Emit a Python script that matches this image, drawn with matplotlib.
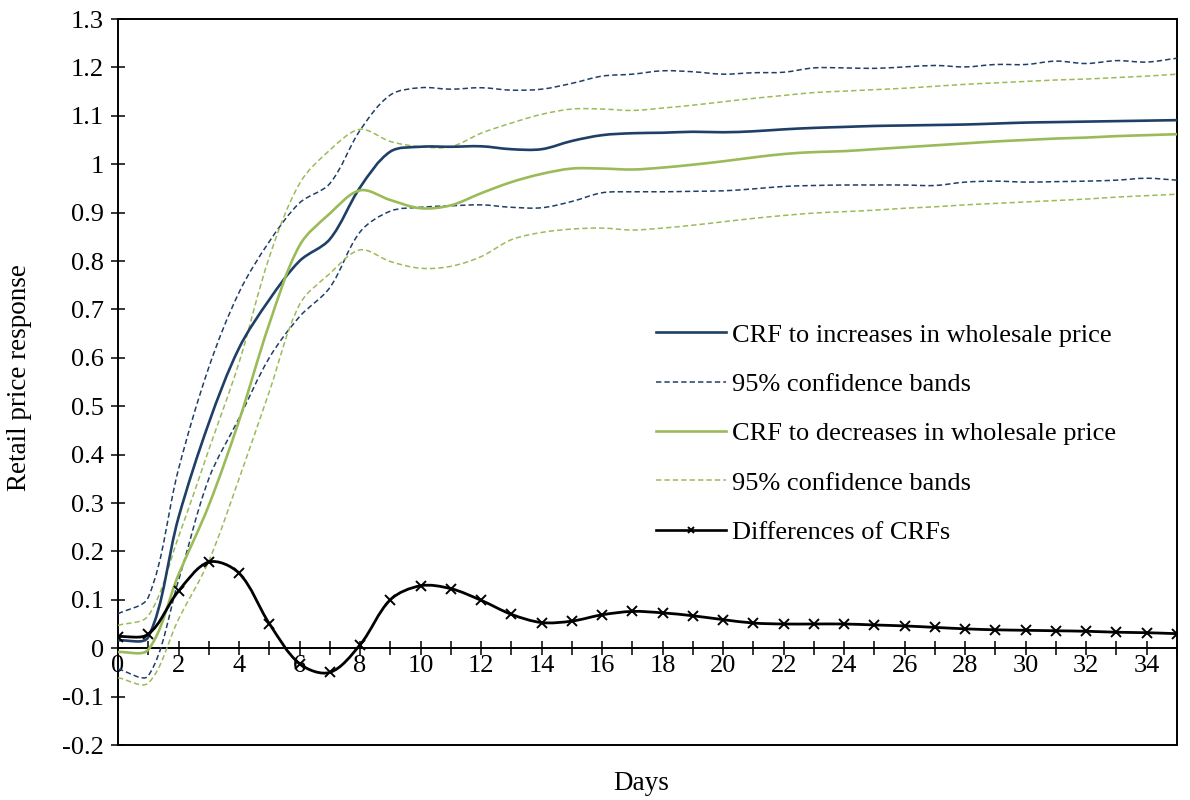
import numpy as np
import matplotlib
matplotlib.use("Agg")
import matplotlib.pyplot as plt
from matplotlib.path import Path
from matplotlib.patches import PathPatch
from matplotlib.lines import Line2D

plt.rcParams["font.family"] = ["Liberation Serif", "DejaVu Serif"]
plt.rcParams["axes.unicode_minus"] = False

NAVY = "#1F3F66"
GREEN = "#9BBB59"

days = list(range(36))

# CRF to increases in wholesale price + 95% bands
crf_up = [0.016, 0.023, 0.270, 0.465, 0.620, 0.720, 0.800, 0.845, 0.952, 1.026,
          1.036, 1.036, 1.037, 1.031, 1.031, 1.048, 1.060, 1.064, 1.065, 1.067,
          1.066, 1.068, 1.072, 1.075, 1.077, 1.079, 1.080, 1.081, 1.082, 1.084,
          1.086, 1.087, 1.088, 1.089, 1.090, 1.091]
crf_up_hi = [0.071, 0.105, 0.370, 0.580, 0.735, 0.840, 0.920, 0.960, 1.070, 1.143,
             1.158, 1.155, 1.158, 1.153, 1.155, 1.167, 1.182, 1.186, 1.193, 1.191,
             1.186, 1.189, 1.190, 1.199, 1.199, 1.198, 1.201, 1.204, 1.201, 1.206,
             1.206, 1.213, 1.208, 1.214, 1.211, 1.219]
crf_up_lo = [-0.043, -0.057, 0.140, 0.350, 0.475, 0.600, 0.685, 0.745, 0.860, 0.903,
             0.911, 0.914, 0.916, 0.911, 0.910, 0.923, 0.941, 0.943, 0.943, 0.944,
             0.945, 0.949, 0.954, 0.956, 0.957, 0.957, 0.957, 0.956, 0.963, 0.965,
             0.963, 0.964, 0.965, 0.967, 0.971, 0.967]

# CRF to decreases in wholesale price + 95% bands
crf_down = [-0.008, -0.003, 0.152, 0.295, 0.470, 0.670, 0.832, 0.898, 0.946, 0.926,
            0.909, 0.915, 0.940, 0.963, 0.980, 0.991, 0.991, 0.989, 0.993, 0.999,
            1.006, 1.014, 1.021, 1.025, 1.027, 1.031, 1.035, 1.039, 1.043, 1.047,
            1.050, 1.053, 1.055, 1.058, 1.060, 1.062]
crf_down_hi = [0.047, 0.067, 0.230, 0.410, 0.590, 0.808, 0.960, 1.029, 1.072, 1.047,
               1.036, 1.036, 1.064, 1.085, 1.103, 1.114, 1.114, 1.111, 1.116, 1.122,
               1.129, 1.136, 1.142, 1.148, 1.151, 1.154, 1.157, 1.161, 1.165, 1.168,
               1.171, 1.174, 1.176, 1.179, 1.182, 1.186]
crf_down_lo = [-0.061, -0.072, 0.060, 0.180, 0.350, 0.530, 0.710, 0.774, 0.823, 0.799,
               0.785, 0.789, 0.809, 0.844, 0.859, 0.866, 0.868, 0.864, 0.868, 0.874,
               0.881, 0.888, 0.894, 0.899, 0.902, 0.905, 0.909, 0.912, 0.916, 0.919,
               0.922, 0.925, 0.928, 0.932, 0.935, 0.938]

# Differences of CRFs
crf_diff = [0.024, 0.029, 0.118, 0.178, 0.155, 0.051, -0.032, -0.050, 0.007, 0.100,
            0.129, 0.123, 0.099, 0.070, 0.053, 0.056, 0.069, 0.076, 0.073, 0.067,
            0.059, 0.052, 0.050, 0.050, 0.050, 0.048, 0.046, 0.043, 0.040, 0.038,
            0.037, 0.036, 0.035, 0.033, 0.032, 0.030]

y_ticks = [-0.2, -0.1, 0, 0.1, 0.2, 0.3, 0.4, 0.5, 0.6, 0.7, 0.8, 0.9, 1, 1.1, 1.2, 1.3]
x_labels = list(range(0, 35, 2))

Y_ASPECT = 16.0  # px per unit y / px per day, used to weigh segment lengths


def smooth_path(x, y):
    # Excel-like smoothed line: bezier through every point, tangents weighted by segment length
    pts = np.column_stack([x, y]).astype(float)
    n = len(pts)
    scl = np.array([1.0, Y_ASPECT])
    seg = np.linalg.norm(np.diff(pts * scl, axis=0), axis=1)
    out_cp, in_cp = [], []
    for i in range(n):
        prev = pts[max(i - 1, 0)]
        nxt = pts[min(i + 1, n - 1)]
        t = nxt - prev
        d_in = seg[i - 1] if i > 0 else 0.0
        d_out = seg[i] if i < n - 1 else 0.0
        tot = d_in + d_out if d_in + d_out > 0 else 1.0
        out_cp.append(pts[i] + t * d_out / tot / 3)
        in_cp.append(pts[i] - t * d_in / tot / 3)
    verts, codes = [pts[0]], [Path.MOVETO]
    for i in range(n - 1):
        verts += [out_cp[i], in_cp[i + 1], pts[i + 1]]
        codes += [Path.CURVE4] * 3
    return Path(verts, codes)


def draw(ax, y, color, lw, ls="-"):
    ax.add_patch(PathPatch(smooth_path(days, y), fill=False, edgecolor=color,
                           lw=lw, linestyle=ls, capstyle="butt", zorder=3))


fig = plt.figure(figsize=(11.9, 8), dpi=100)
ax = fig.add_axes([118 / 1190, 55 / 800, 1059 / 1190, 726 / 800])

dash = (0, (3.5, 2))
draw(ax, crf_up_hi, NAVY, 1.1, dash)
draw(ax, crf_up_lo, NAVY, 1.1, dash)
draw(ax, crf_down_hi, GREEN, 1.1, dash)
draw(ax, crf_down_lo, GREEN, 1.1, dash)
draw(ax, crf_up, NAVY, 1.9)
draw(ax, crf_down, GREEN, 1.9)
draw(ax, crf_diff, "black", 2.0)
ax.plot(days, crf_diff, ls="none", marker="x", color="black", ms=7, mew=1.4, zorder=4)

ax.set_xlim(0, 35)
ax.set_ylim(-0.2, 1.3)
ax.set_yticks(y_ticks)
ax.set_yticklabels([f"{v:g}" for v in y_ticks])
ax.set_xticks(days, minor=True)
ax.set_xticks(x_labels)
ax.set_xticklabels([str(d) for d in x_labels])

ax.spines["bottom"].set_position(("data", 0))
for sp in ax.spines.values():
    sp.set_linewidth(1.4)
ax.axhline(-0.2, color="black", lw=1.4, clip_on=False)
ax.tick_params(axis="both", which="both", direction="inout", length=10, width=1.1,
               labelsize=19, color="black")
ax.tick_params(axis="x", which="both", pad=0)
ax.tick_params(axis="y", pad=5)

fig.text(20 / 1190, 1 - 378 / 800, "Retail price response", rotation=90,
         ha="center", va="center", fontsize=19.5)
fig.text(641 / 1190, 1 - 783 / 800, "Days", ha="center", va="center", fontsize=19.5)

handles = [
    Line2D([], [], color=NAVY, lw=1.9),
    Line2D([], [], color=NAVY, lw=1.1, ls=dash),
    Line2D([], [], color=GREEN, lw=1.9),
    Line2D([], [], color=GREEN, lw=1.1, ls=dash),
    Line2D([], [], color="black", lw=1.9, marker="x", ms=5, mew=1.4),
]
labels = ["CRF to increases in wholesale price", "95% confidence bands",
          "CRF to decreases in wholesale price", "95% confidence bands",
          "Differences of CRFs"]
ax.legend(handles, labels, loc="upper left", bbox_to_anchor=(0.508, 0.581),
          frameon=False, fontsize=19, handlelength=2.65, handletextpad=0.23,
          labelspacing=0.98, borderpad=0, borderaxespad=0)

fig.savefig("out.png", dpi=100)
